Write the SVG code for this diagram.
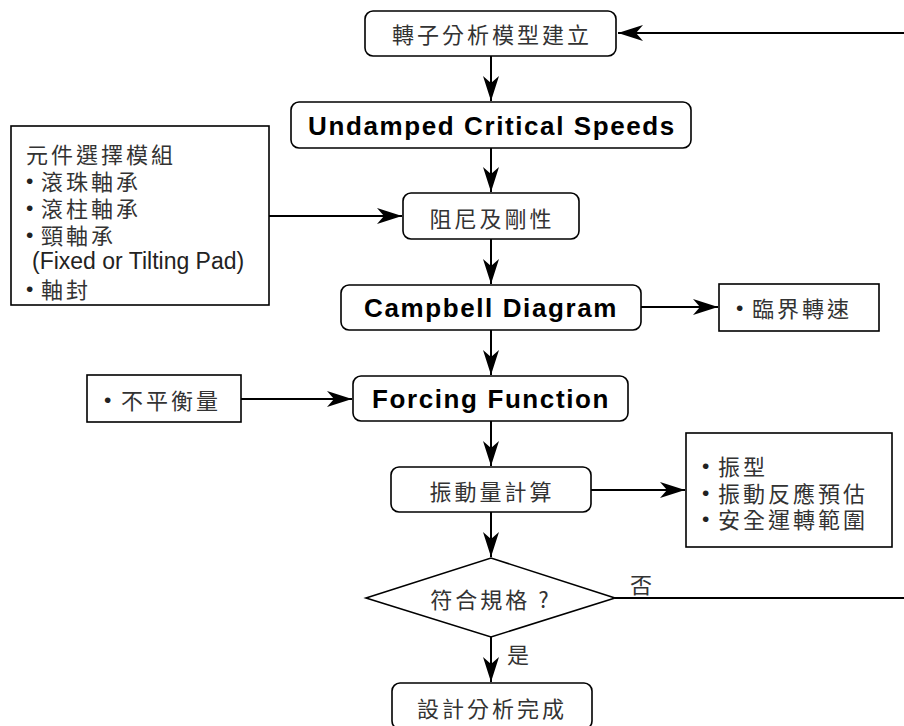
<svg xmlns="http://www.w3.org/2000/svg" width="904" height="726" viewBox="0 0 904 726">
<style>
.box{fill:#fff;stroke:#000;stroke-width:1.6}
.cn{font-family:"Noto Sans CJK TC","Noto Sans CJK SC",sans-serif;font-size:22px;fill:#333;letter-spacing:3px;dominant-baseline:central}
.en{font-family:"Liberation Sans",Arial,sans-serif;font-weight:bold;font-size:26px;fill:#000;letter-spacing:1.6px;text-anchor:middle}
.enr{font-family:"Liberation Sans",Arial,sans-serif;font-size:23px;fill:#222}
.bul{font-family:"Liberation Sans",Arial,sans-serif;font-size:21px;fill:#222}
.mid{text-anchor:middle}
.conn{fill:none;stroke:#000;stroke-width:2}
</style>
<defs>
<marker id="arr" markerUnits="userSpaceOnUse" markerWidth="27" markerHeight="18" refX="25" refY="8.5" orient="auto">
<path d="M25,8.5 L0,0.5 L7,8.5 L0,16.5 Z" fill="#000"/>
</marker>
</defs>
<g id="connectors">
<path class="conn" d="M615,598 H905 V33 H618" marker-end="url(#arr)"/>
<path class="conn" d="M491,56 V101" marker-end="url(#arr)"/>
<path class="conn" d="M491,148 V192" marker-end="url(#arr)"/>
<path class="conn" d="M269,216 H402" marker-end="url(#arr)"/>
<path class="conn" d="M491,239 V284" marker-end="url(#arr)"/>
<path class="conn" d="M641,307 H718" marker-end="url(#arr)"/>
<path class="conn" d="M491,330 V375" marker-end="url(#arr)"/>
<path class="conn" d="M241,399 H352" marker-end="url(#arr)"/>
<path class="conn" d="M491,421 V466" marker-end="url(#arr)"/>
<path class="conn" d="M591,490 H685" marker-end="url(#arr)"/>
<path class="conn" d="M491,512 V557" marker-end="url(#arr)"/>
<path class="conn" d="M491,637 V682" marker-end="url(#arr)"/>
</g>
<g id="n-model">
<rect class="box" x="365" y="11" width="251" height="45" rx="8"/>
<text class="cn mid" x="492" y="33">轉子分析模型建立</text>
</g>
<g id="n-undamped">
<rect class="box" x="291" y="102" width="400" height="46" rx="8"/>
<text class="en" x="492" y="135">Undamped Critical Speeds</text>
</g>
<g id="n-components">
<rect class="box" x="11" y="126" width="258" height="179"/>
<text class="cn" x="26" y="153">元件選擇模組</text>
<text class="cn" y="180"><tspan class="bul" x="26">•</tspan><tspan x="41">滾珠軸承</tspan></text>
<text class="cn" y="207"><tspan class="bul" x="26">•</tspan><tspan x="41">滾柱軸承</tspan></text>
<text class="cn" y="234"><tspan class="bul" x="26">•</tspan><tspan x="41">頸軸承</tspan></text>
<text class="enr" x="32" y="269">(Fixed or Tilting Pad)</text>
<text class="cn" y="288"><tspan class="bul" x="26">•</tspan><tspan x="41">軸封</tspan></text>
</g>
<g id="n-damping">
<rect class="box" x="403" y="193" width="176" height="46" rx="8"/>
<text class="cn mid" x="492" y="217">阻尼及剛性</text>
</g>
<g id="n-campbell">
<rect class="box" x="341" y="285" width="300" height="45" rx="8"/>
<text class="en" x="491" y="317">Campbell Diagram</text>
</g>
<g id="n-critical">
<rect class="box" x="719" y="284" width="160" height="47"/>
<text class="cn" y="307"><tspan class="bul" x="736">•</tspan><tspan x="752">臨界轉速</tspan></text>
</g>
<g id="n-unbalance">
<rect class="box" x="87" y="375" width="154" height="47"/>
<text class="cn" y="399"><tspan class="bul" x="104">•</tspan><tspan x="121">不平衡量</tspan></text>
</g>
<g id="n-forcing">
<rect class="box" x="353" y="376" width="275" height="45" rx="8"/>
<text class="en" x="491" y="408">Forcing Function</text>
</g>
<g id="n-vibration">
<rect class="box" x="391" y="467" width="200" height="45" rx="8"/>
<text class="cn mid" x="492" y="490">振動量計算</text>
</g>
<g id="n-results">
<rect class="box" x="686" y="433" width="206" height="114"/>
<text class="cn" y="465"><tspan class="bul" x="702">•</tspan><tspan x="718">振型</tspan></text>
<text class="cn" y="492"><tspan class="bul" x="702">•</tspan><tspan x="718">振動反應預估</tspan></text>
<text class="cn" y="518"><tspan class="bul" x="702">•</tspan><tspan x="718">安全運轉範圍</tspan></text>
</g>
<g id="n-decision">
<polygon class="box" points="366,598 491,558 615,598 491,637"/>
<text class="cn mid" x="491" y="598">符合規格 ?</text>
</g>
<g id="n-done">
<rect class="box" x="392" y="683" width="200" height="46" rx="8"/>
<text class="cn mid" x="492" y="707">設計分析完成</text>
</g>
<g id="labels">
<text class="cn" x="630" y="583">否</text>
<text class="cn" x="507" y="653">是</text>
</g>
</svg>
